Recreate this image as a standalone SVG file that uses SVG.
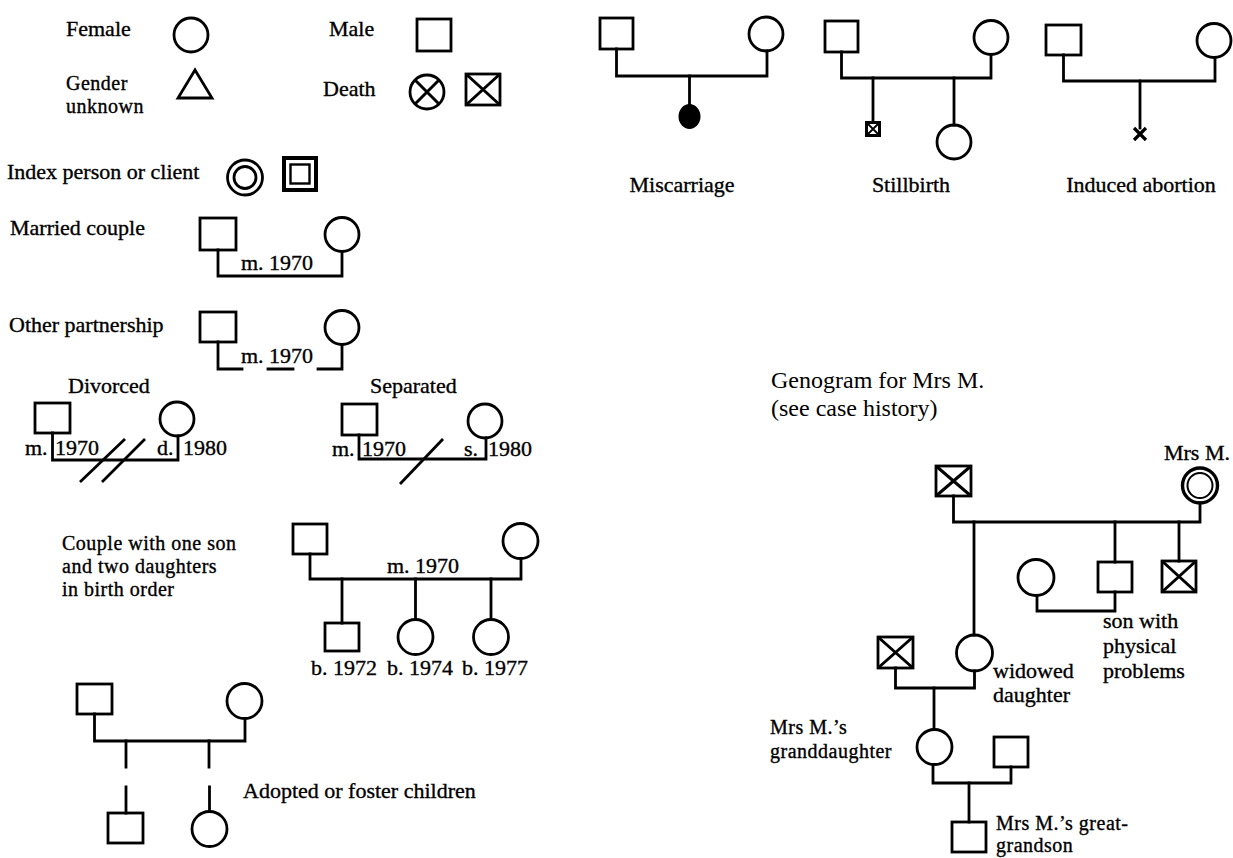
<svg xmlns="http://www.w3.org/2000/svg" width="1233" height="858" viewBox="0 0 1233 858">
<style>
.s{fill:#fff;stroke:#000;stroke-width:2.8}
.l{fill:none;stroke:#000;stroke-width:2.8;stroke-linejoin:miter;stroke-linecap:square}
.x{fill:none;stroke:#000;stroke-width:3}
.t{font-family:"Liberation Serif","Times New Roman",serif;font-size:22px;fill:#000;stroke:#000;stroke-width:0.35}
.ml{font-size:20px;letter-spacing:0.5px}
.h{font-family:"Liberation Serif","Times New Roman",serif;font-size:24px;fill:#000}
.m{text-anchor:middle}
</style>
<rect width="1233" height="858" fill="#fff"/>

<!-- Legend -->
<g id="legend-female"><text class="t" x="66" y="36">Female</text><circle class="s" cx="191" cy="35" r="17"/></g>
<g id="legend-male"><text class="t" x="329" y="36">Male</text><rect class="s" x="417" y="19" width="34" height="32"/></g>
<g id="legend-unknown"><text class="t ml" x="66" y="90">Gender</text><text class="t ml" x="66" y="113">unknown</text><polygon class="s" points="195,70 212,98 178,98"/></g>
<g id="legend-death"><text class="t" x="323" y="96">Death</text>
<circle class="s" cx="427" cy="92" r="17"/><path class="x" d="M415 80L439 104M439 80L415 104"/>
<rect class="s" x="466" y="74" width="34" height="31"/><path class="x" d="M466 74L500 105M500 74L466 105"/></g>
<g id="legend-index"><text class="t" x="7" y="179">Index person or client</text>
<circle class="s" cx="245" cy="177.5" r="17.5"/><circle class="s" cx="245" cy="177.5" r="11"/>
<rect class="s" x="284" y="158" width="32" height="32" style="stroke-width:4"/><rect class="s" x="290.5" y="164.5" width="19" height="19" style="stroke-width:2.4"/></g>

<!-- Married couple -->
<g id="married-couple"><text class="t" x="10" y="235">Married couple</text>
<rect class="s" x="200" y="218" width="36" height="32"/><circle class="s" cx="342" cy="234.5" r="17"/>
<text class="t" x="241" y="270">m. 1970</text></g>
<!-- Other partnership -->
<g id="other-partnership"><text class="t" x="9" y="332">Other partnership</text>
<rect class="s" x="200" y="312" width="36" height="30"/><circle class="s" cx="342" cy="327.5" r="17"/>
<text class="t" x="241" y="363">m. 1970</text></g>
<!-- Divorced -->
<g id="divorced"><text class="t" x="68" y="393">Divorced</text>
<rect class="s" x="35" y="403" width="35" height="30"/><circle class="s" cx="177" cy="419" r="17"/>
<text class="t" x="25" y="455">m.</text><text class="t" x="55" y="455">1970</text>
<text class="t" x="157" y="455">d.</text><text class="t" x="183" y="455">1980</text></g>
<!-- Separated -->
<g id="separated"><text class="t" x="370" y="393">Separated</text>
<rect class="s" x="342" y="404" width="35" height="31"/><circle class="s" cx="485" cy="421" r="17"/>
<text class="t" x="332" y="456">m.</text><text class="t" x="362" y="456">1970</text>
<text class="t" x="464" y="456">s.</text><text class="t" x="488" y="456">1980</text></g>
<!-- Couple with children -->
<g id="couple-children"><text class="t ml" x="62" y="550">Couple with one son</text><text class="t ml" x="62" y="573">and two daughters</text><text class="t ml" x="62" y="596">in birth order</text>
<rect class="s" x="293" y="524" width="34" height="30"/><circle class="s" cx="520.5" cy="541" r="17.5"/>
<text class="t" x="387" y="573">m. 1970</text></g>
<g id="child-son"><rect class="s" x="325" y="623" width="34" height="28"/><text class="t" x="311" y="675">b. 1972</text></g>
<g id="child-daughter1"><circle class="s" cx="415.5" cy="637" r="17.5"/><text class="t" x="387" y="675">b. 1974</text></g>
<g id="child-daughter2"><circle class="s" cx="491" cy="637" r="17.5"/><text class="t" x="462" y="675">b. 1977</text></g>
<!-- Adopted -->
<g id="adopted-parents"><rect class="s" x="77" y="684" width="35" height="30"/><circle class="s" cx="244.5" cy="701" r="17.5"/>
<text class="t" x="243" y="798">Adopted or foster children</text></g>
<g id="adopted-son"><rect class="s" x="108" y="813" width="35" height="30"/></g>
<g id="adopted-daughter"><circle class="s" cx="209.5" cy="829" r="17.5"/></g>

<!-- Miscarriage -->
<g id="miscarriage"><rect class="s" x="600" y="18" width="33" height="31"/><circle class="s" cx="766" cy="34" r="17"/>
<ellipse cx="689.5" cy="116.5" rx="11" ry="12.5" fill="#000"/>
<text class="t m" x="682" y="192">Miscarriage</text></g>
<!-- Stillbirth -->
<g id="stillbirth"><rect class="s" x="866.5" y="122.5" width="13" height="13" style="stroke-width:3"/><path class="x" d="M866.5 122.5L879.5 135.5M879.5 122.5L866.5 135.5" style="stroke-width:1.8"/>
<rect class="s" x="825" y="21" width="33" height="31"/><circle class="s" cx="991" cy="37.5" r="17"/>
<circle class="s" cx="954" cy="142" r="17"/>
<text class="t m" x="911" y="192">Stillbirth</text></g>
<!-- Induced abortion -->
<g id="induced-abortion"><rect class="s" x="1046" y="25" width="35" height="30"/><circle class="s" cx="1214" cy="40.5" r="17"/>
<path class="x" d="M1134 128L1146 140M1146 128L1134 140" style="stroke-width:3.2"/>
<text class="t m" x="1141" y="192">Induced abortion</text></g>

<!-- Genogram -->
<g id="title"><text class="h" x="771" y="388">Genogram for Mrs M.</text><text class="h" x="771" y="416">(see case history)</text></g>
<g id="husband-mrsm"><rect class="s" x="936" y="466" width="35" height="30"/><path class="x" d="M936 466L971 496M971 466L936 496"/></g>
<g id="mrs-m"><text class="t m" x="1197" y="460">Mrs M.</text><circle class="s" cx="1200" cy="485.5" r="17.5" style="stroke-width:3.4"/><circle class="s" cx="1200" cy="485.5" r="12.5" style="stroke-width:2"/></g>
<g id="son"><rect class="s" x="1098" y="562" width="34" height="30"/>
<text class="t" x="1103" y="628">son with</text><text class="t" x="1103" y="653">physical</text><text class="t" x="1103" y="678">problems</text></g>
<g id="dead-son"><rect class="s" x="1162" y="561" width="34" height="31"/><path class="x" d="M1162 561L1196 592M1196 561L1162 592"/></g>
<g id="son-wife"><circle class="s" cx="1036" cy="577.5" r="18"/></g>
<g id="widowed-daughter"><circle class="s" cx="974.5" cy="653" r="18"/><text class="t" x="993" y="678">widowed</text><text class="t" x="993" y="702">daughter</text></g>
<g id="daughter-husband"><rect class="s" x="878" y="637" width="35" height="31"/><path class="x" d="M878 637L913 668M913 637L878 668"/></g>
<g id="granddaughter"><circle class="s" cx="934.5" cy="747" r="17.5"/><text class="t ml" x="770" y="734">Mrs M.’s</text><text class="t ml" x="770" y="758">granddaughter</text></g>
<g id="granddaughter-husband"><rect class="s" x="994" y="737" width="34" height="30"/></g>
<g id="great-grandson"><rect class="s" x="952" y="822" width="34" height="30"/><text class="t ml" x="996" y="830">Mrs M.’s great-</text><text class="t ml" x="996" y="852">grandson</text></g>

<!-- Connectors -->
<g id="connectors" class="l">
<path d="M218 250V276H342V251.5"/>
<path d="M218 342V369H242M268 369H293M318 369H342V344.5"/>
<path d="M52.5 433V460H178V436"/>
<path d="M80 482L125 439M102 482L145 439" stroke-linecap="butt"/>
<path d="M359 435V459H486V438"/>
<path d="M400 484L443 439" stroke-linecap="butt"/>
<path d="M310 554V579H521V558.5"/>
<path d="M342 579V623M415.5 579V619.5M491 579V619.5"/>
<path d="M94.5 714V741H245V718.5"/>
<path d="M126 741V767M209 741V767M126 787V813M209.5 787V811.5"/>
<path d="M616.5 49V76H767V51"/>
<path d="M689.5 76V104"/>
<path d="M841.5 52V78H991V54.5"/>
<path d="M873 78V122.5M954 78V125"/>
<path d="M1063.5 55V81H1215V57.5"/>
<path d="M1140 81V128"/>
<path d="M953.5 496V522H1200V503"/>
<path d="M974 522V635M1115 522V562M1179 522V561"/>
<path d="M1037 595.5V611H1115V592"/>
<path d="M895.5 668V688H974.5V671"/>
<path d="M934 688V729.5"/>
<path d="M933 764.5V783H1011V767"/>
<path d="M969 783V822"/>
</g>
</svg>
